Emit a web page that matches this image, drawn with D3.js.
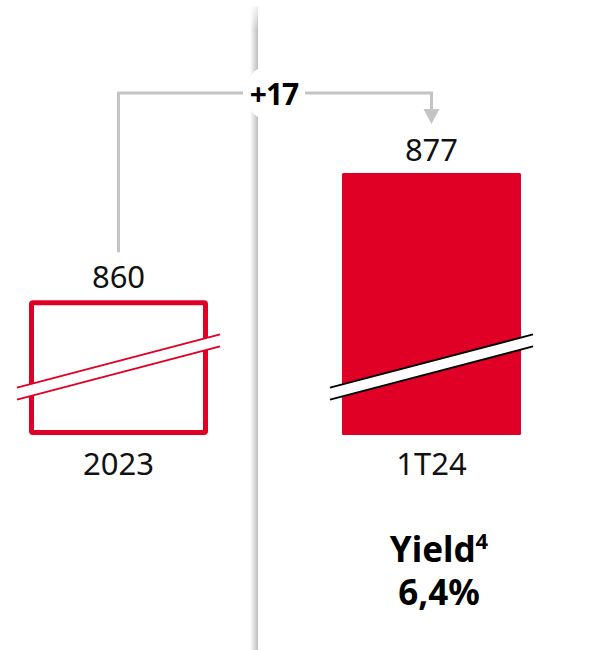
<!DOCTYPE html>
<html>
<head>
<meta charset="utf-8">
<script src="https://cdn.jsdelivr.net/npm/d3@7"></script>
<style>
  html, body { margin: 0; padding: 0; background: #fff; }
  svg { display: block; }
</style>
</head>
<body>
<div id="chart"></div>
<script>
const categories = ["2023", "1T24"];
const values = [860, 877];
const deltaLabel = "+17";
const yieldTitle = "Yield";
const yieldNote = "4";
const yieldValue = "6,4%";

const width = 599;
const height = 650;
const red = "#e00025";
const grey = "#c4c4c4";
const font = "'Noto Sans', sans-serif";

const svg = d3.select("#chart").append("svg")
    .attr("width", width)
    .attr("height", height);

const defs = svg.append("defs");
const shade = defs.append("linearGradient").attr("id", "shade")
    .attr("x1", 0).attr("x2", 1).attr("y1", 0).attr("y2", 0);
shade.append("stop").attr("offset", "0%").attr("stop-color", "#fff");
shade.append("stop").attr("offset", "100%").attr("stop-color", "#bdbdbd");
const fade = defs.append("linearGradient").attr("id", "fade")
    .attr("x1", 0).attr("x2", 0).attr("y1", 0).attr("y2", 1);
fade.append("stop").attr("offset", "0%").attr("stop-color", "#fff").attr("stop-opacity", 1);
fade.append("stop").attr("offset", "100%").attr("stop-color", "#fff").attr("stop-opacity", 0);

// broken axis: bars don't start at zero
const x = d3.scaleBand().domain(categories).range([29, 521]).paddingInner(0.428).paddingOuter(0);
const y = d3.scaleLinear().domain([842, 877]).range([435, 173]);
const cx = c => x(c) + x.bandwidth() / 2;

// divider
svg.append("rect").attr("x", 250).attr("y", 0).attr("width", 8).attr("height", height)
    .attr("fill", "url(#shade)");
svg.append("rect").attr("x", 248).attr("y", 0).attr("width", 12).attr("height", 30)
    .attr("fill", "url(#fade)");
svg.append("rect").attr("x", 248).attr("y", 0).attr("width", 12).attr("height", 6)
    .attr("fill", "#fff");

const data = categories.map((c, i) => ({cat: c, value: values[i], last: i === values.length - 1}));

// bars: first outlined, last filled
const sw = 5;
svg.append("g").selectAll("rect")
    .data(data)
    .join("rect")
    .attr("x", d => d.last ? x(d.cat) : x(d.cat) + sw / 2)
    .attr("y", d => d.last ? y(d.value) : y(d.value) + sw / 2)
    .attr("width", d => d.last ? x.bandwidth() : x.bandwidth() - sw)
    .attr("height", d => d.last ? y(842) - y(d.value) : y(842) - y(d.value) - sw)
    .attr("rx", 1.5)
    .attr("fill", d => d.last ? red : "#fff")
    .attr("stroke", d => d.last ? "none" : red)
    .attr("stroke-width", sw);

// axis break marks
const breakY = 367, slope = -0.262, gap = 12, ext = 12;
data.forEach(d => {
    const x0 = x(d.cat) - ext, x1 = x(d.cat) + x.bandwidth() + ext, xm = cx(d.cat);
    const yl = breakY - slope * (xm - x0), yr = breakY + slope * (x1 - xm);
    const g = svg.append("g");
    g.append("path")
        .attr("d", `M${x0},${yl - gap / 2}L${x1},${yr - gap / 2}L${x1},${yr + gap / 2}L${x0},${yl + gap / 2}Z`)
        .attr("fill", "#fff");
    [-gap / 2, gap / 2].forEach(o => {
        g.append("line")
            .attr("x1", x0).attr("y1", yl + o)
            .attr("x2", x1).attr("y2", yr + o)
            .attr("stroke", d.last ? "#000" : red)
            .attr("stroke-width", 2);
    });
});

// value labels
svg.append("g").attr("font-family", font).attr("font-size", 31).attr("text-anchor", "middle")
    .selectAll("text").data(data).join("text")
    .attr("x", d => cx(d.cat))
    .attr("y", d => y(d.value) - 12)
    .attr("fill", "#111")
    .text(d => d.value);

// category labels
svg.append("g").attr("font-family", font).attr("font-size", 31).attr("text-anchor", "middle")
    .selectAll("text").data(data).join("text")
    .attr("x", d => cx(d.cat))
    .attr("y", 475)
    .attr("fill", "#111")
    .text(d => d.cat);

// change connector
const lineY = 93;
const xa = cx(categories[0]), xb = cx(categories[1]);
const mid = 274;
svg.append("path")
    .attr("d", `M${xa},${y(values[0]) - 48}V${lineY}H${mid - 31}`)
    .attr("fill", "none").attr("stroke", grey).attr("stroke-width", 3);
svg.append("path")
    .attr("d", `M${mid + 31},${lineY}H${xb}V${y(values[1]) - 62}`)
    .attr("fill", "none").attr("stroke", grey).attr("stroke-width", 3);
const tip = y(values[1]) - 49;
svg.append("path")
    .attr("d", `M${xb - 8},${tip - 15}L${xb + 8},${tip - 15}L${xb},${tip}Z`)
    .attr("fill", grey);
svg.append("circle").attr("cx", mid).attr("cy", lineY).attr("r", 29).attr("fill", "#fff");
svg.append("text")
    .attr("x", mid).attr("y", 105)
    .attr("text-anchor", "middle")
    .attr("font-family", font).attr("font-weight", 700).attr("font-size", 30)
    .attr("letter-spacing", -1)
    .attr("fill", "#000")
    .text(deltaLabel);

// yield note
const yt = svg.append("text")
    .attr("x", 439).attr("y", 562)
    .attr("text-anchor", "middle")
    .attr("font-family", font).attr("font-weight", 700).attr("font-size", 35)
    .attr("fill", "#000");
yt.append("tspan").text(yieldTitle);
yt.append("tspan").attr("font-size", 22).attr("dy", -13).text(yieldNote);
svg.append("text")
    .attr("x", 439).attr("y", 605)
    .attr("text-anchor", "middle")
    .attr("font-family", font).attr("font-weight", 700).attr("font-size", 35)
    .attr("fill", "#000")
    .text(yieldValue);
</script>
</body>
</html>
